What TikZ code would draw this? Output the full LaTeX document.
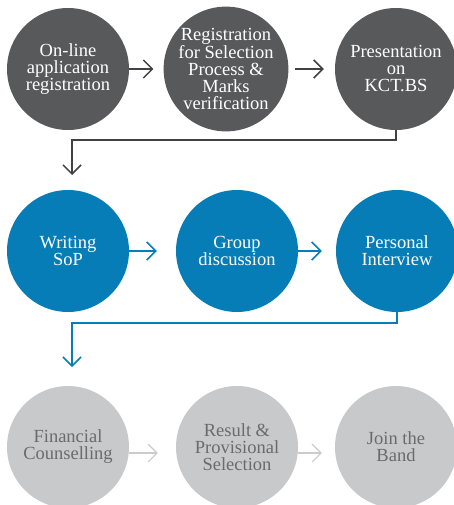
\documentclass[tikz,border=0pt]{standalone}
\usepackage{fontspec}
\setmainfont{Liberation Serif}
\usetikzlibrary{arrows.meta}

\definecolor{stagedark}{HTML}{58595B}
\definecolor{linedark}{HTML}{414042}
\definecolor{stageblue}{HTML}{067DB7}
\definecolor{stagegrey}{HTML}{C8C9CB}
\definecolor{linegrey}{HTML}{CBCBCB}
\definecolor{textgrey}{HTML}{6A6B6E}

\tikzset{
  stage/.style={circle, minimum size=122pt, inner sep=0pt, align=center,
    font=\fontsize{18.5}{17}\selectfont},
  darkstage/.style={stage, fill=stagedark, text=white},
  bluestage/.style={stage, fill=stageblue, text=white},
  greystage/.style={stage, fill=stagegrey, text=textgrey},
  flow/.style={-{Straight Barb[length=9pt,width=18pt]}, line width=1.5pt},
  darkflow/.style={flow, draw=linedark},
  blueflow/.style={flow, draw=stageblue},
  greyflow/.style={flow, draw=linegrey, line width=1.1pt},
}

\begin{document}
\begin{tikzpicture}[x=1pt, y=-1pt]
  \useasboundingbox (0,0) rectangle (454,505);

  % first row: application stages
  \node[darkstage] (n1) at (68,69)  {On-line\\application\\registration};
  \node[darkstage] (n2) at (226,69) {Registration\\for Selection\\Process \&\\Marks\\verification};
  \node[darkstage] (n3) at (396,69) {Presentation\\on\\KCT.BS};

  % second row: assessment stages
  \node[bluestage] (n4) at (68,251)  {Writing\\SoP};
  \node[bluestage] (n5) at (237,251) {Group\\discussion};
  \node[bluestage] (n6) at (397,251) {Personal\\Interview};

  % third row: final stages
  \node[greystage] (n7) at (68,447)  {Financial\\Counselling};
  \node[greystage] (n8) at (237,447) {Result \&\\Provisional\\Selection};
  \node[greystage] (n9) at (396,447) {Join the\\Band};

  % ends of the row-to-row connectors
  \coordinate (j1) at (72,175);
  \coordinate (j2) at (72,367);

  % arrows within the rows
  \draw[darkflow, shorten >=10pt] (n1) -- (n2);
  \draw[darkflow, shorten <=6pt, shorten >=11pt] (n2) -- (n3);
  \draw[blueflow, shorten >=19pt] (n4) -- (n5);
  \draw[blueflow, shorten >=14pt] (n5) -- (n6);
  \draw[greyflow, shorten >=18pt] ([yshift=-6pt]n7.east) -- ([yshift=-6pt]n8.west);
  \draw[greyflow, shorten >=13pt] ([yshift=-6pt]n8.east) -- ([yshift=-6pt]n9.west);

  % connectors between the rows
  \draw[darkflow] (n3.south) -- ++(0,10) -| (j1);
  \draw[blueflow] (n6.south) -- ++(0,11) -| (j2);
\end{tikzpicture}
\end{document}
